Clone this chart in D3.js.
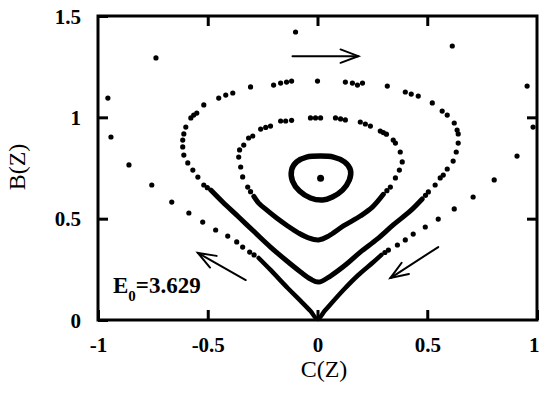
<!DOCTYPE html>
<html>
<head>
<meta charset="utf-8">
<script src="https://cdn.jsdelivr.net/npm/d3@7"></script>
<style>
  body { margin: 0; background: #fff; }
  svg { display: block; }
  text { font-family: "Liberation Serif", "Times New Roman", serif; fill: #000; }
</style>
</head>
<body>
<svg id="chart" width="539" height="395"></svg>
<script>
// Axis ticks and labels
const xTickValues = [-1, -0.5, 0, 0.5, 1];
const xTickLabels = ["-1", "-0.5", "0", "0.5", "1"];
const yTickValues = [0, 0.5, 1, 1.5];
const yTickLabels = ["0", "0.5", "1", "1.5"];
const mirrorXTicks = [-0.5, 0, 0.5];
const mirrorYTicks = [0.5, 1];

// Surface of section, points as [C(Z), B(Z)]
// Innermost closed orbit and its fixed point
const centreLoop = [
  [0.014, 0.809], [0.073, 0.804], [0.123, 0.780], [0.150, 0.740], [0.145, 0.691],
  [0.114, 0.641], [0.068, 0.607], [0.023, 0.592], [-0.032, 0.602], [-0.082, 0.636],
  [-0.114, 0.686], [-0.118, 0.740], [-0.095, 0.780], [-0.050, 0.804]
];
const centrePoint = [[0.014, 0.700]];

// Second orbit: dense lower branch and sparse upper arc
const orbit2Solid = [
  [-0.290, 0.610], [-0.268, 0.577], [-0.232, 0.543], [-0.186, 0.503], [-0.136, 0.464],
  [-0.086, 0.429], [-0.041, 0.405], [0.005, 0.395], [0.050, 0.414], [0.118, 0.464],
  [0.195, 0.513], [0.250, 0.557], [0.300, 0.620]
];
const orbit2Dots = [
  [0.316, 0.638], [0.332, 0.656], [0.355, 0.701], [0.373, 0.740], [0.386, 0.780], [0.377, 0.829],
  [0.355, 0.873], [0.345, 0.888], [0.314, 0.917], [0.300, 0.925], [0.286, 0.932],
  [0.241, 0.957], [0.218, 0.967], [0.195, 0.977], [0.127, 0.987], [0.105, 0.992],
  [0.082, 0.997], [0.014, 0.997], [-0.009, 0.997], [-0.032, 0.997], [-0.118, 0.985],
  [-0.145, 0.982], [-0.168, 0.982], [-0.214, 0.957], [-0.236, 0.950], [-0.259, 0.942],
  [-0.295, 0.908], [-0.314, 0.898], [-0.336, 0.863], [-0.355, 0.839], [-0.359, 0.804],
  [-0.350, 0.755], [-0.341, 0.706], [-0.318, 0.656], [-0.305, 0.633]
];

// Third orbit
const orbit3Solid = [
  [-0.486, 0.641], [-0.432, 0.582], [-0.359, 0.508], [-0.282, 0.429], [-0.214, 0.360],
  [-0.145, 0.296], [-0.077, 0.237], [-0.032, 0.202], [0.005, 0.187], [0.059, 0.217],
  [0.127, 0.271], [0.195, 0.335], [0.273, 0.400], [0.345, 0.469], [0.423, 0.538],
  [0.477, 0.597]
];
const orbit3Dots = [
  [0.492, 0.615], [0.505, 0.632], [0.536, 0.666], [0.559, 0.701], [0.573, 0.715], [0.591, 0.745],
  [0.618, 0.784], [0.632, 0.829], [0.641, 0.873], [0.641, 0.918], [0.636, 0.937],
  [0.623, 0.972], [0.591, 1.011], [0.568, 1.031], [0.523, 1.071], [0.459, 1.105],
  [0.427, 1.115], [0.400, 1.125], [0.318, 1.154], [0.205, 1.169], [0.182, 1.159],
  [0.159, 1.169], [0.127, 1.174], [0.000, 1.179], [-0.118, 1.179], [-0.141, 1.174],
  [-0.168, 1.169], [-0.200, 1.159], [-0.305, 1.150], [-0.386, 1.120], [-0.418, 1.110],
  [-0.450, 1.095], [-0.518, 1.061], [-0.550, 1.021], [-0.564, 1.011], [-0.577, 0.997],
  [-0.600, 0.952], [-0.609, 0.918], [-0.614, 0.888], [-0.614, 0.854], [-0.609, 0.814],
  [-0.591, 0.775], [-0.568, 0.740], [-0.545, 0.705], [-0.518, 0.666], [-0.502, 0.653]
];

// Outermost orbit, ending in the cusp at the origin
const orbit4Solid = [
  [-0.268, 0.306], [-0.214, 0.247], [-0.136, 0.158], [-0.077, 0.094], [-0.032, 0.044],
  [0.000, 0.005], [0.036, 0.049], [0.118, 0.148], [0.186, 0.222], [0.255, 0.286],
  [0.291, 0.321]
];
const orbit4Dots = [
  [-0.289, 0.321], [-0.309, 0.335], [-0.341, 0.360], [-0.368, 0.385], [-0.409, 0.414], [-0.464, 0.444],
  [-0.523, 0.483], [-0.586, 0.528], [-0.664, 0.582], [-0.755, 0.666], [-0.859, 0.765],
  [-0.941, 0.903], [-0.955, 1.095], [-0.736, 1.293], [-0.100, 1.421], [0.614, 1.352],
  [0.955, 1.154], [0.982, 0.952], [0.909, 0.809], [0.805, 0.691], [0.709, 0.607],
  [0.623, 0.548], [0.550, 0.498], [0.491, 0.459], [0.436, 0.424], [0.400, 0.395],
  [0.364, 0.370], [0.323, 0.345], [0.307, 0.333]
];

// Direction of motion along the orbits: [tail, head]
const flowArrows = [
  [[-0.114, 1.302], [0.186, 1.302]],
  [[-0.327, 0.197], [-0.545, 0.331]],
  [[0.550, 0.360], [0.332, 0.207]]
];

const svg = d3.select("#chart");
const x = d3.scaleLinear().domain([-1, 1]).range([98, 537]);
const y = d3.scaleLinear().domain([0, 1.5]).range([320, 16]);

const tickFont = 21;
const serif = "Liberation Serif, Times New Roman, serif";

// Bottom axis with labels
const gx = svg.append("g").attr("transform", `translate(0,${y(0)})`)
  .call(d3.axisBottom(x).tickValues(xTickValues)
    .tickFormat((d, i) => xTickLabels[i]).tickSizeInner(-10).tickSizeOuter(0));
gx.select(".domain").remove();
gx.selectAll("line").attr("stroke", "#000").attr("stroke-width", 3);
gx.selectAll("text").attr("y", 32).attr("dy", null)
  .attr("font-size", tickFont).attr("font-weight", "bold").attr("font-family", serif);
// keep the last label inside the page edge
gx.selectAll(".tick").filter(d => d === 1).select("text")
  .attr("text-anchor", "end").attr("x", 2);

// Left axis with labels
const gy = svg.append("g").attr("transform", `translate(${x(-1)},0)`)
  .call(d3.axisLeft(y).tickValues(yTickValues)
    .tickFormat((d, i) => yTickLabels[i]).tickSizeInner(-10).tickSizeOuter(0));
gy.select(".domain").remove();
gy.selectAll("line").attr("stroke", "#000").attr("stroke-width", 3);
gy.selectAll("text").attr("x", -17).attr("dy", "0.34em")
  .attr("font-size", tickFont).attr("font-weight", "bold").attr("font-family", serif);

// Mirrored ticks on top and right
const gt = svg.append("g").attr("transform", `translate(0,${y(1.5)})`)
  .call(d3.axisTop(x).tickValues(mirrorXTicks).tickFormat("").tickSizeInner(-10).tickSizeOuter(0));
gt.select(".domain").remove();
gt.selectAll("line").attr("stroke", "#000").attr("stroke-width", 3);
const gr = svg.append("g").attr("transform", `translate(${x(1)},0)`)
  .call(d3.axisRight(y).tickValues(mirrorYTicks).tickFormat("").tickSizeInner(-10).tickSizeOuter(0));
gr.select(".domain").remove();
gr.selectAll("line").attr("stroke", "#000").attr("stroke-width", 3);

// Frame
svg.append("rect")
  .attr("x", x(-1)).attr("y", y(1.5))
  .attr("width", x(1) - x(-1)).attr("height", y(0) - y(1.5))
  .attr("fill", "none").attr("stroke", "#000").attr("stroke-width", 3);

// Axis titles
svg.append("text").attr("x", 324).attr("y", 377)
  .attr("text-anchor", "middle").attr("font-size", 24).text("C(Z)");
svg.append("text").attr("transform", "translate(25,167) rotate(-90)")
  .attr("text-anchor", "middle").attr("font-size", 24).text("B(Z)");

const plot = svg.append("g");

// Dense branches drawn as continuous strokes
plot.append("path")
  .attr("d", d3.line().x(d => x(d[0])).y(d => y(d[1])).curve(d3.curveCardinalClosed.tension(0))(centreLoop))
  .attr("fill", "none").attr("stroke", "#000").attr("stroke-width", 5.5);

[[orbit2Solid, 5], [orbit3Solid, 5], [orbit4Solid, 4.5]].forEach(([pts, w]) => {
  plot.append("path")
    .attr("d", d3.line().x(d => x(d[0])).y(d => y(d[1])).curve(d3.curveCatmullRom.alpha(0.5))(pts))
    .attr("fill", "none").attr("stroke", "#000").attr("stroke-width", w)
    .attr("stroke-linecap", "round").attr("stroke-linejoin", "round");
});

// Individual section points
[orbit2Dots, orbit3Dots, orbit4Dots].forEach(pts => {
  plot.selectAll(null).data(pts).enter().append("circle")
    .attr("cx", d => x(d[0])).attr("cy", d => y(d[1])).attr("r", 2.6).attr("fill", "#000");
});
plot.selectAll(null).data(centrePoint).enter().append("circle")
  .attr("cx", d => x(d[0])).attr("cy", d => y(d[1])).attr("r", 3.5).attr("fill", "#000");

// Flow arrows with open heads
const arrows = svg.append("g").attr("stroke", "#000").attr("stroke-width", 2).attr("fill", "none")
  .attr("stroke-linecap", "round");
flowArrows.forEach(([a, b]) => {
  const x1 = x(a[0]), y1 = y(a[1]), x2 = x(b[0]), y2 = y(b[1]);
  const ang = Math.atan2(y2 - y1, x2 - x1);
  const L = 19, spread = 0.36;
  arrows.append("line").attr("x1", x1).attr("y1", y1).attr("x2", x2).attr("y2", y2);
  arrows.append("path").attr("d", `M${x2 - L * Math.cos(ang - spread)},${y2 - L * Math.sin(ang - spread)}L${x2},${y2}L${x2 - L * Math.cos(ang + spread)},${y2 - L * Math.sin(ang + spread)}`)
    .attr("stroke-linejoin", "miter");
});

// Energy label
const lab = svg.append("text").attr("x", 113).attr("y", 293)
  .attr("font-size", 23).attr("font-weight", "bold");
lab.append("tspan").text("E");
lab.append("tspan").attr("font-size", 15).attr("dy", 8).text("0");
lab.append("tspan").attr("dy", -8).text("=3.629");
</script>
</body>
</html>
